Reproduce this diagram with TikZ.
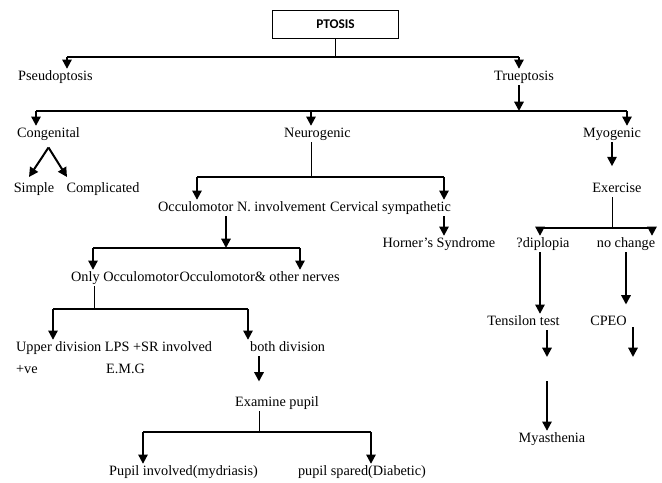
\documentclass[tikz,border=0pt]{standalone}
\usepackage{fontspec}
\setmainfont{Liberation Serif}
\newfontfamily\boxfont{Carlito}
\usetikzlibrary{arrows.meta}
\tikzset{every picture/.style={line width=0.75pt}}
\tikzset{
  txt/.style={font=\fontsize{10.7}{13}\selectfont, inner sep=0.5pt, text height=8pt, text depth=2.5pt},
  arr/.style={-{Triangle[width=7pt,length=7pt]}, line width=1.5pt},
  bar/.style={line width=1.1pt},
  stem/.style={line width=0.75pt},
}

\begin{document}
\begin{tikzpicture}[x=0.75pt,y=0.75pt,yscale=-1,xscale=1]
\useasboundingbox (0,0) rectangle (662,483);

% Text Node
\node[draw, minimum width=94pt, minimum height=21pt, font=\boxfont\bfseries\fontsize{10}{12}\selectfont] (ptosis) at (335.5,24) {PTOSIS};
% Text Node
\node[txt] (pseudo) at (55.5,77) {Pseudoptosis};
\node[txt] (true) at (524,77) {Trueptosis};
% Text Node
\node[txt] (cong) at (48.5,134) {Congenital};
\node[txt] (neuro) at (317.5,134) {Neurogenic};
\node[txt] (myo) at (612,134) {Myogenic};
% Text Node
\node[txt] (simple) at (34,189) {Simple};
\node[txt] (compl) at (103,189) {Complicated};
% Text Node
\node[txt, anchor=west] (occ) at (157,208) {Occulomotor N. involvement};
\node[txt, anchor=west] (cerv) at (329,208) {Cervical sympathetic};
\node[txt] (horner) at (439,244) {Horner’s Syndrome};
% Text Node
\node[txt, anchor=west] (onlyocc) at (70,278) {Only Occulomotor};
\node[txt, anchor=west, xshift=-1pt] (occother) at (onlyocc.east) {Occulomotor\& other nerves};
% Text Node
\node[txt, anchor=west] (upper) at (15,348) {Upper division LPS +SR involved};
\node[txt, anchor=west] (both) at (249,348) {both division};
\node[txt, anchor=west] (plusve) at (15,370) {+ve};
\node[txt, anchor=west] (emg) at (105,370) {E.M.G};
% Text Node
\node[txt] (exam) at (277,403) {Examine pupil};
\node[txt] (pinv) at (183.5,472) {Pupil involved(mydriasis)};
\node[txt] (pspared) at (362,472) {pupil spared(Diabetic)};
% Text Node
\node[txt] (exer) at (617,189) {Exercise};
\node[txt] (dipl) at (543,244) {?diplopia};
\node[txt] (nochg) at (626,244) {no change};
\node[txt] (tens) at (523.5,322) {Tensilon test};
\node[txt] (cpeo) at (608.5,322) {CPEO};
\node[txt] (myas) at (552,439) {Myasthenia};

%Straight Lines
\coordinate (b1l) at (67,57);
\coordinate (b1r) at (519,57);
\draw[stem] (ptosis.south) -- (ptosis.south |- b1l);
\draw[bar] (b1l) -- (b1r);
\draw[arr] (b1l) -- (b1l |- pseudo.north);
\draw[arr] (b1r) -- (b1r |- true.north);

%Straight Lines
\coordinate (b2l) at (36,111);
\coordinate (b2m) at (311,111);
\coordinate (b2r) at (627,111);
\draw[arr] (b1r |- true.south) -- (b1r |- b2l);
\draw[bar] (b2l) -- (b2r);
\draw[arr] (b2l) -- (b2l |- cong.north);
\draw[arr] (b2m) -- (b2m |- neuro.north);
\draw[arr] (b2r) -- (b2r |- myo.north);

%Straight Lines
\coordinate (simplein) at (29,177);
\coordinate (complin) at (67,177);
\draw[arr] ([yshift=4]cong.south) -- (simplein);
\draw[arr] ([yshift=4]cong.south) -- (complin);

%Straight Lines
\coordinate (b3l) at (197,177);
\coordinate (b3r) at (444,177);
\draw[stem] (b2m |- neuro.south) -- (b2m |- b3l);
\draw[bar] (b3l) -- (b3r);
\draw[arr] (b3l) -- (b3l |- occ.north);
\draw[arr] (b3r) -- (b3r |- cerv.north);
\draw[arr] (b3r |- cerv.south) -- (b3r |- horner.north);

%Straight Lines
\coordinate (b4l) at (93,248);
\coordinate (b4m) at (226,248);
\coordinate (b4r) at (300,248);
\draw[arr] (b4m |- occ.south) -- (b4m);
\draw[bar] (b4l) -- (b4r);
\draw[arr] (b4l) -- (b4l |- onlyocc.north);
\draw[arr] (b4r) -- (b4r |- occother.north);

%Straight Lines
\coordinate (b5l) at (53,309);
\coordinate (b5m) at (94,309);
\coordinate (b5r) at (248,309);
\draw[stem] (b5m |- onlyocc.south) -- (b5m);
\draw[bar] (b5l) -- (b5r);
\draw[arr] (b5l) -- (b5l |- upper.north);
\draw[arr] (b5r) -- (b5r |- both.north);

%Straight Lines
\coordinate (b6l) at (143,432);
\coordinate (b6m) at (259,432);
\coordinate (b6r) at (371,432);
\draw[arr, shorten >=10pt] (b6m |- both.south) -- (b6m |- exam.north);
\draw[stem] (b6m |- exam.south) -- (b6m);
\draw[bar] (b6l) -- (b6r);
\draw[arr] (b6l) -- (b6l |- pinv.north);
\draw[arr] (b6r) -- (b6r |- pspared.north);

%Straight Lines
\coordinate (b7l) at (540,228);
\coordinate (b7m) at (612,228);
\coordinate (b7r) at (652,228);
\draw[arr, shorten >=11pt] (myo.south) -- (exer.north -| myo.south);
\draw[stem] (b7m |- exer.south) -- (b7m);
\draw[bar] (b7l) -- (b7r);
\draw[arr] (b7l) -- (b7l |- dipl.north);
\draw[arr] (b7r) -- (b7r |- nochg.north);
\draw[arr] (b7l |- dipl.south) -- (b7l |- tens.north);
\draw[arr, shorten >=7pt] (nochg.south) -- (nochg.south |- cpeo.north);

%Straight Lines
\coordinate (tend) at (547,357);
\coordinate (cstart) at (633,327);
\coordinate (cend) at (633,357);
\coordinate (mstart) at (547,381);
\draw[arr] (tens.south -| tend) -- (tend);
\draw[arr] (cstart) -- (cend);
\draw[arr] (mstart) -- (mstart |- myas.north);

\end{tikzpicture}
\end{document}
